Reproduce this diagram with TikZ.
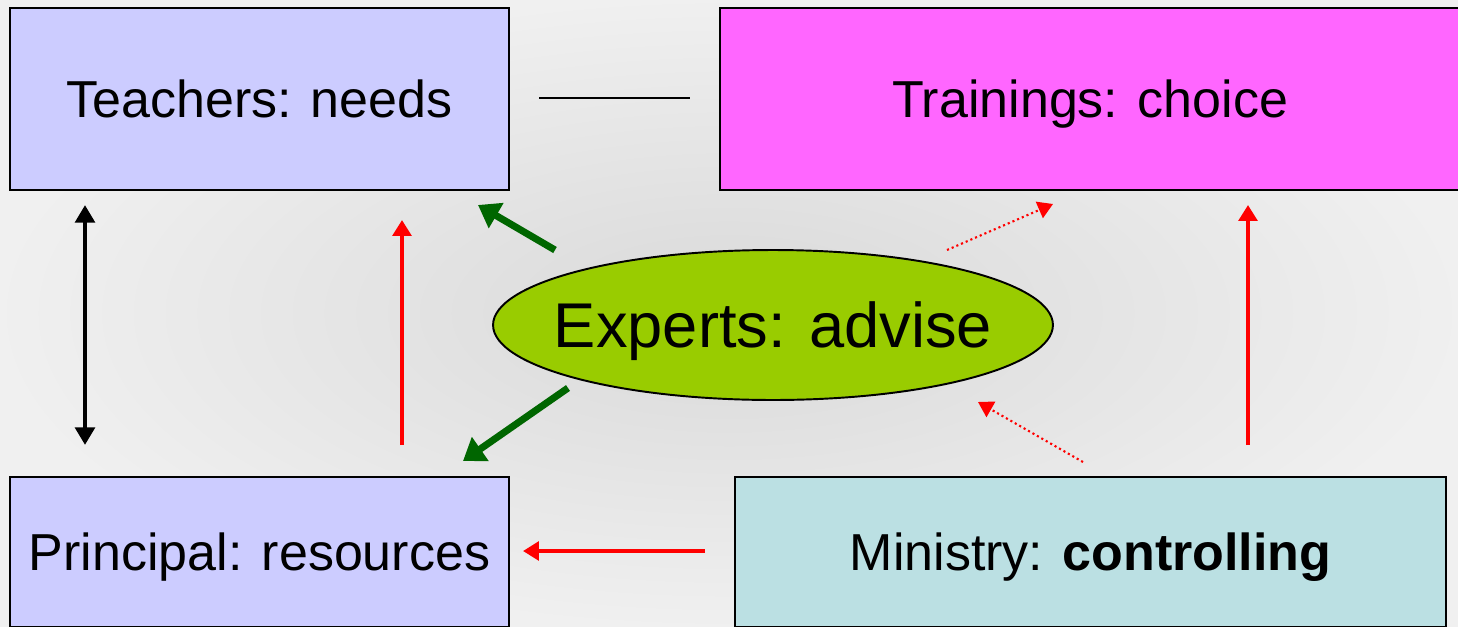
\documentclass[tikz,border=0pt]{standalone}
\usepackage{fontspec}
\setmainfont{Liberation Sans}
\usetikzlibrary{arrows.meta,shapes.geometric}

\definecolor{lilac}{HTML}{CCCCFF}
\definecolor{pink}{HTML}{FF66FF}
\definecolor{lime}{HTML}{99CC00}
\definecolor{aqua}{HTML}{BBE0E3}
\definecolor{leaf}{HTML}{006600}

\begin{document}
\begin{tikzpicture}[x=0.02cm, y=-0.02cm,
  box/.style={draw=black, line width=1.1pt, inner sep=0pt, text depth=0pt,
    font=\fontsize{29.6}{35}\selectfont},
  twoway/.style={line width=2.8pt, {Triangle[length=10pt,width=11pt]}-{Triangle[length=10pt,width=11pt]}},
  redarrow/.style={red, line width=2.6pt, -{Triangle[length=9pt,width=10.5pt]}},
  greenarrow/.style={leaf, line width=4pt, -{Triangle[length=12pt,width=16pt]}},
  dotarrow/.style={red, line width=1.2pt, dash pattern=on 1.2pt off 1.7pt, -{Triangle[length=8.5pt,width=10pt]}}]
\useasboundingbox (0,0) rectangle (1458,626);
\shade[inner color=gray!30, outer color=gray!12] (0,0) rectangle (1458,626);

% boxes
\node[box, fill=lilac, minimum width=9.98cm, minimum height=3.64cm] (teachers) at (259.5,99) {Teachers: needs};
\node[box, fill=pink, minimum width=14.8cm, minimum height=3.64cm] (trainings) at (1090,99) {Trainings: choice};
\node[box, fill=lilac, minimum width=9.98cm, minimum height=3.0cm] (principal) at (259.5,552) {Principal: resources};
\node[box, fill=aqua, minimum width=14.22cm, minimum height=3.0cm] (ministry) at (1090.5,552) {Ministry: \textbf{controlling}};
\node[draw=black, line width=1.1pt, ellipse, fill=lime, inner sep=0pt,
  minimum width=11.2cm, minimum height=3.0cm, text depth=0pt,
  font=\fontsize{36}{42}\selectfont] (experts) at (773,325) {\makebox[0pt]{Experts: advise}};

% free ends
\coordinate (lineA) at (539,98);
\coordinate (lineB) at (690,98);
\coordinate (bothA) at (85,205);
\coordinate (bothB) at (85,445);
\coordinate (upL0) at (402,445);
\coordinate (upL1) at (402,220);
\coordinate (upR0) at (1248,445);
\coordinate (upR1) at (1248,205);
\coordinate (left0) at (705,551);
\coordinate (left1) at (523,551);
\coordinate (gUp0) at (555,250);
\coordinate (gUp1) at (478,205);
\coordinate (gDn0) at (568,388);
\coordinate (gDn1) at (463,461);
\coordinate (dUp0) at (947,250);
\coordinate (dUp1) at (1053,204);
\coordinate (dDn0) at (1083,462);
\coordinate (dDn1) at (978,402);

% connectors
\draw[line width=0.8pt] (lineA) -- (lineB);
\draw[twoway] (bothA) -- (bothB);
\draw[redarrow] (upL0) -- (upL1);
\draw[redarrow] (upR0) -- (upR1);
\draw[redarrow] (left0) -- (left1);
\draw[greenarrow] (gUp0) -- (gUp1);
\draw[greenarrow] (gDn0) -- (gDn1);
\draw[dotarrow] (dUp0) -- (dUp1);
\draw[dotarrow] (dDn0) -- (dDn1);
\end{tikzpicture}
\end{document}
